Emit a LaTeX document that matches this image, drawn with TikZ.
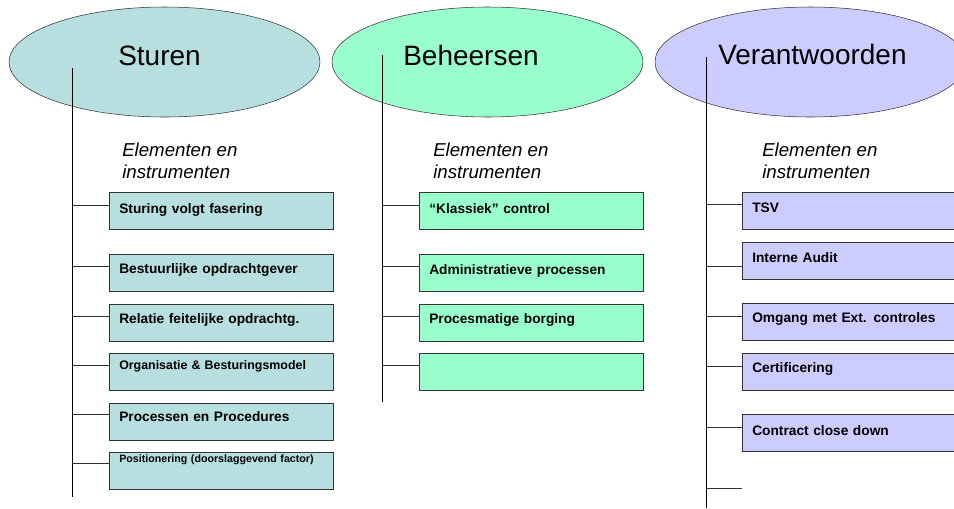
\documentclass[tikz,border=0pt]{standalone}
\usepackage{fontspec}
\setmainfont{Liberation Sans}
\usetikzlibrary{calc,shapes.geometric}
\definecolor{sturenkleur}{HTML}{B8DFE0}
\definecolor{beheerkleur}{HTML}{99FFCC}
\definecolor{verantkleur}{HTML}{CCCCFF}
\tikzset{pillar/.style={ellipse,draw=black!80,fill=#1,minimum width=233.25pt,minimum height=82.5pt,inner sep=0pt},pillar/.default=sturenkleur}
\tikzset{title/.style={anchor=base west,inner sep=0pt,font=\fontsize{21}{25}\selectfont}}
\tikzset{subtitle/.style={anchor=north west,inner sep=0pt,align=left,font=\fontsize{14}{16.5}\selectfont\itshape}}
\tikzset{item/.style={draw=black!80,fill=#1,anchor=north west,inner sep=0pt,inner xsep=7.5pt,text width=153pt,align=left,text height=15pt,text depth=12.75pt,font=\fontsize{10.3}{12}\selectfont\bfseries},item/.default=sturenkleur}
\tikzset{trunk/.style={color=black,line width=0.6pt}}
\tikzset{twig/.style={color=black!80,line width=0.6pt}}

\begin{document}
\begin{tikzpicture}[x=0.75pt,y=-0.75pt]

	% Kader van de plaat
	\useasboundingbox (0,0) rectangle (954,508);
	\clip (0,0) rectangle (954,508);

	% De drie ellipsen
	\node [pillar] (sturen) at (164.5,62) {};
	\node [pillar=beheerkleur] (beheersen) at (487.5,62) {};
	\node [pillar=verantkleur] (verantwoorden) at (810.5,62) {};

	% De titels
	\node [title] (sturen title) at (118,65) {Sturen};
	\node [title] (beheersen title) at (403,65) {Beheersen};
	\node [title] (verantwoorden title) at (718,64) {Verantwoorden};

	% De stammen
	\coordinate (sturen top) at (72,68);
	\coordinate (sturen end) at (72,497);
	\coordinate (beheer top) at (382,55);
	\coordinate (beheer end) at (382,402);
	\coordinate (verant top) at (706,57);
	\coordinate (verant end) at (706,508);
	\draw [trunk] (sturen top) -- (sturen end);
	\draw [trunk] (beheer top) -- (beheer end);
	\draw [trunk] (verant top) -- (verant end);

	% "Elementen en instrumenten"
	\node [subtitle] (sturen sub) at (122,143) {Elementen en\\instrumenten};
	\node [subtitle] (beheer sub) at (433,143) {Elementen en\\instrumenten};
	\node [subtitle] (verant sub) at (762,143) {Elementen en\\instrumenten};

	% Kolom Sturen
	\node [item,text height=15.75pt,text depth=12pt] (s1) at (109,192) {Sturing volgt fasering};
	\node [item,text height=14.25pt,text depth=13.5pt] (s2) at (109,254) {Bestuurlijke opdrachtgever};
	\node [item,text height=14.25pt,text depth=13.5pt] (s3) at (109,304) {Relatie feitelijke opdrachtg.};
	\node [item,text height=12pt,text depth=15.75pt,font=\fontsize{9.3}{11}\selectfont\bfseries] (s4) at (109,353) {Organisatie \& Besturingsmodel};
	\node [item,text height=13.5pt,text depth=14.25pt] (s5) at (109,403) {Processen en Procedures};
	\node [item,text height=7.5pt,text depth=20.25pt,font=\fontsize{8}{10}\selectfont\bfseries] (s6) at (109,452) {Positionering (doorslaggevend factor)};

	% Kolom Beheersen
	\node [item=beheerkleur,text height=15.75pt,text depth=12pt] (b1) at (419,192) {“Klassiek” control};
	\node [item=beheerkleur] (b2) at (419,254) {Administratieve processen};
	\node [item=beheerkleur,text height=14.25pt,text depth=13.5pt] (b3) at (419,304) {Procesmatige borging};
	\node [item=beheerkleur] (b4) at (419,353) {};

	% Kolom Verantwoorden
	\node [item=verantkleur] (v1) at (742,192) {TSV};
	\node [item=verantkleur] (v2) at (742,242) {Interne Audit};
	\node [item=verantkleur,text height=14.25pt,text depth=13.5pt] (v3) at (742,303) {Omgang met Ext. controles};
	\node [item=verantkleur,text height=14.25pt,text depth=13.5pt] (v4) at (742,353) {Certificering};
	\node [item=verantkleur,text height=15.75pt,text depth=12pt] (v5) at (742,414) {Contract close down};

	% Takken naar de blokken
	\foreach \naam/\dy in {s1/13,s2/12,s3/12,s4/12,s5/11,s6/11}
		\draw [twig] ($(sturen top |- \naam.north west)+(0,\dy)$) -- ($(\naam.north west)+(0,\dy)$);
	\foreach \naam/\dy in {b1/13,b2/12,b3/12,b4/12}
		\draw [twig] ($(beheer top |- \naam.north west)+(0,\dy)$) -- ($(\naam.north west)+(0,\dy)$);
	\foreach \naam/\dy in {v1/12,v2/24,v3/13,v4/13,v5/13}
		\draw [twig] ($(verant top |- \naam.north west)+(0,\dy)$) -- ($(\naam.north west)+(0,\dy)$);

	% Losse tak onderaan
	\coordinate (loos) at (742,488);
	\draw [twig] (verant top |- loos) -- (loos);

\end{tikzpicture}
\end{document}
